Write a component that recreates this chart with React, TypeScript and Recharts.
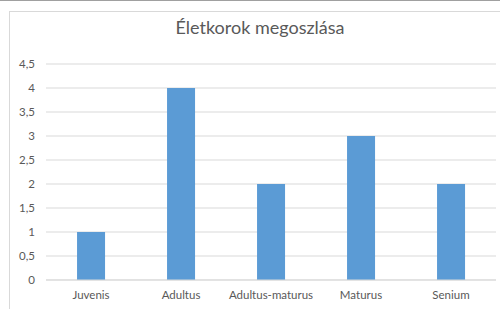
import React from "react";
import { BarChart, Bar, XAxis, YAxis, CartesianGrid } from "recharts";

const categories = ["Juvenis", "Adultus", "Adultus-maturus", "Maturus", "Senium"];
const counts = [1, 4, 2, 3, 2];
const yTicks = [0, 0.5, 1, 1.5, 2, 2.5, 3, 3.5, 4, 4.5];
const title = "Életkorok megoszlása";

const data = categories.map((name, i) => ({ name, value: counts[i] }));

const FONT = "Lato, 'Open Sans', sans-serif";

export default function App() {
  return (
    <div style={{ position: "absolute", left: 0, top: 0, width: 500, height: 309, background: "#fff", overflow: "hidden", fontFamily: FONT }}>
      <div style={{ position: "absolute", left: 0, top: 0, width: 500, height: 0, borderTop: "1px solid #a0a0a0" }} />
      <div style={{ position: "absolute", left: 9, top: 11, width: 520, height: 320, border: "1px solid #d9d9d9", boxSizing: "border-box" }} />
      <div style={{ position: "absolute", left: 0, top: 15, width: 520, textAlign: "center", fontSize: 18, color: "#595959", lineHeight: "24px" }}>{title}</div>
      <div style={{ position: "absolute", left: 0, top: 0 }}>
        <BarChart width={500} height={309} data={data} margin={{ top: 64, right: 4, bottom: 0, left: 0 }} barCategoryGap="34.5%">
          <CartesianGrid vertical={false} stroke="#d9d9d9" />
          <XAxis dataKey="name" height={29} axisLine={{ stroke: "#d9d9d9" }} tickLine={false} tickMargin={5} tick={{ fill: "#595959", fontSize: 11.5, fontFamily: FONT }} interval={0} />
          <YAxis width={46} domain={[0, 4.5]} ticks={yTicks} axisLine={false} tickLine={false} tickMargin={5} tickFormatter={(v: number) => String(v).replace(".", ",")} tick={{ fill: "#595959", fontSize: 11.5, fontFamily: FONT }} />
          <Bar dataKey="value" fill="#5b9bd5" isAnimationActive={false} />
        </BarChart>
      </div>
    </div>
  );
}
